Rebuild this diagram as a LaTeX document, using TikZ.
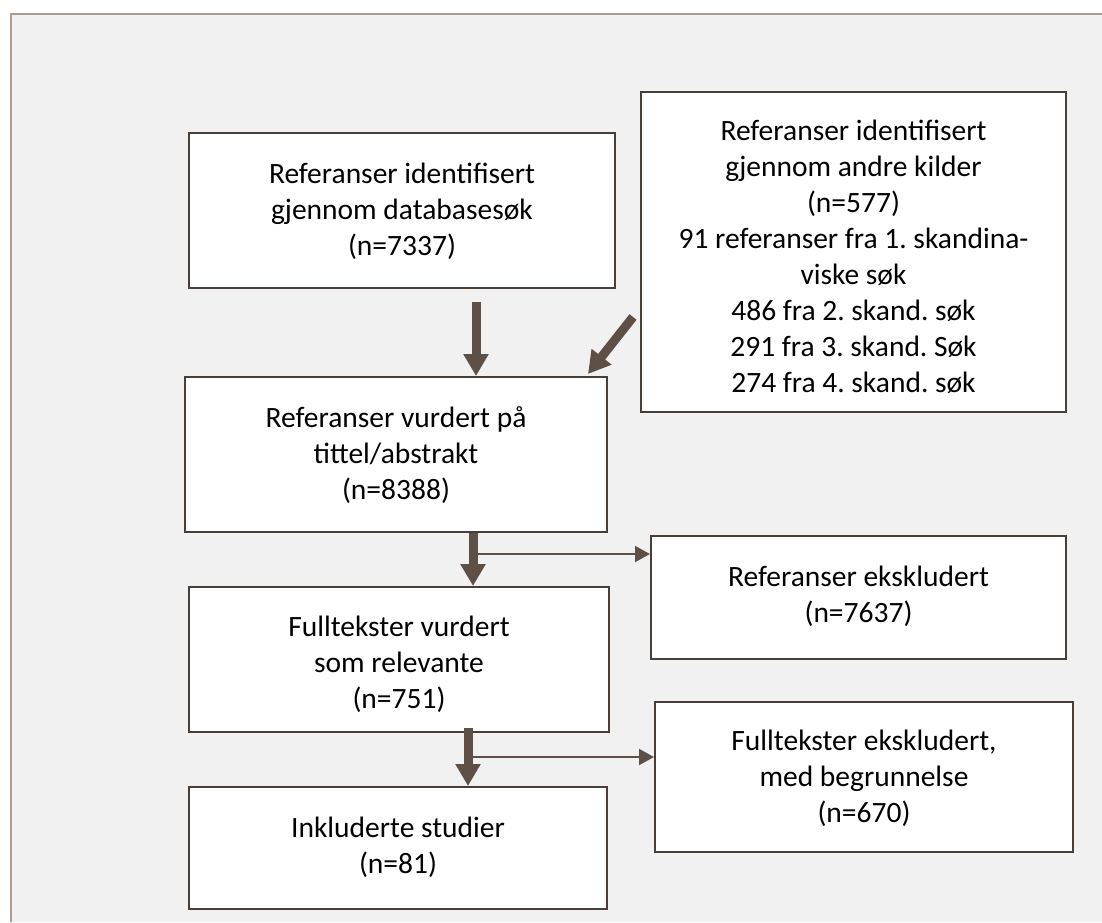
\documentclass[tikz,border=0pt]{standalone}
\usepackage{fontspec}
\setmainfont{Carlito}
\usetikzlibrary{arrows.meta,calc}
\definecolor{boxline}{HTML}{4A3F38}
\definecolor{arrowc}{HTML}{5E5047}
\definecolor{framec}{HTML}{AE9C92}
\definecolor{bgc}{HTML}{F1F1F1}
\newcommand\boxlines[2]{\raisebox{#1}[\height][\depth]{\begin{tabular}{@{}c@{}}#2\end{tabular}}}
\frenchspacing
\begin{document}
\begin{tikzpicture}[x=1pt,y=-1pt,
  box/.style={draw=boxline, line width=2pt, fill=white, inner sep=0pt,
    font=\fontsize{29.5}{36}\selectfont\frenchspacing},
  bigarrow/.style={draw=arrowc, line width=9pt, -{Triangle[width=24pt,length=22pt]}},
  smallarrow/.style={draw=arrowc, line width=2pt, -{Triangle[width=16pt,length=15pt]}}]
\useasboundingbox (0,0) rectangle (1102,922);
\fill[white] (0,0) rectangle (1102,922);
\fill[bgc] (10.7,14) rectangle (1102,922);
\draw[framec, line width=2pt] (10.7,922) -- (10.7,14) -- (1102,14);

\node[box, minimum width=426pt, minimum height=155pt] (b1) at (402,210.5)
  {\boxlines{-2pt}{Referanser identifisert\\gjennom databasesøk\\(n=7337)}};
\node[box, minimum width=425pt, minimum height=320pt] (b2) at (853.5,252)
  {\boxlines{-7pt}{Referanser identifisert\\gjennom andre kilder\\(n=577)\\91 referanser fra 1. skandina-\\viske søk\\486 fra 2. skand. søk\\291 fra 3. skand. Søk\\274 fra 4. skand. søk}};
\node[box, minimum width=422pt, minimum height=155pt] (b3) at (396,454.5)
  {\boxlines{-2pt}{Referanser vurdert på\\tittel/abstrakt\\(n=8388)}};
\node[box, minimum width=415pt, minimum height=123pt] (b4) at (858.5,597.5)
  {\boxlines{0pt}{Referanser ekskludert\\(n=7637)}};
\node[box, minimum width=420pt, minimum height=145pt] (b5) at (399,659.5)
  {\boxlines{-6pt}{Fulltekster vurdert\\som relevante\\(n=751)}};
\node[box, minimum width=418pt, minimum height=150pt] (b6) at (864,777)
  {\boxlines{-2pt}{Fulltekster ekskludert,\\med begrunnelse\\(n=670)}};
\node[box, minimum width=418pt, minimum height=122pt] (b7) at (398,848)
  {\boxlines{0pt}{Inkluderte studier\\(n=81)}};

\coordinate (a1s) at (476,302);
\draw[bigarrow] (a1s) -- (a1s |- b3.north);
\coordinate (a2s) at (633,317);
\draw[bigarrow] (a2s) -- ([xshift=-20pt,yshift=2pt]b3.north east);

\coordinate (x3) at (473,0);
\draw[smallarrow] (473,554) coordinate (br1) -- (br1 -| b4.west);
\draw[bigarrow] (x3 |- b3.south) -- (x3 |- b5.north);

\coordinate (x4) at (468,0);
\draw[smallarrow] (468,757) coordinate (br2) -- (br2 -| b6.west);
\draw[bigarrow] ([yshift=5pt]x4 |- b5.south) -- (x4 |- b7.north);
\end{tikzpicture}
\end{document}
